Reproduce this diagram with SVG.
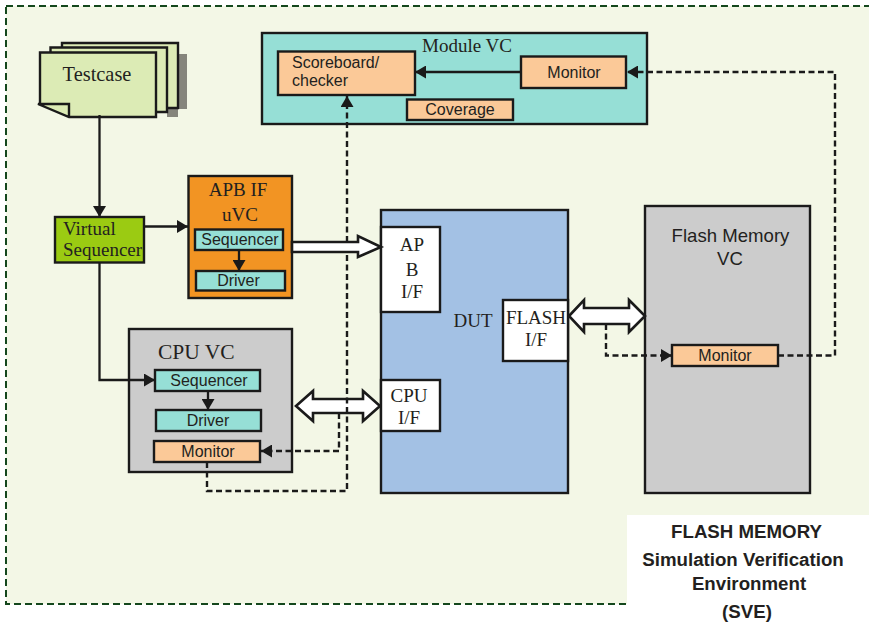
<svg xmlns="http://www.w3.org/2000/svg" width="869" height="622" viewBox="0 0 869 622">
<defs>
<style>
.b{stroke:#1a1a1a;stroke-width:2.4}
.mon{fill:#fbc998}
.teal{fill:#96dfd6}
.wh{fill:#fff}
.s{font-family:"Liberation Serif","Times New Roman",serif;fill:#231f20;font-size:19px}
.a{font-family:"Liberation Sans",Arial,sans-serif;fill:#231f20;font-size:16px}
.t{font-family:"Liberation Sans",Arial,sans-serif;fill:#231f20;font-size:18.700px;font-weight:bold;text-anchor:middle}
.m{text-anchor:middle}
.c{fill:none;stroke:#1a1a1a;stroke-width:2.300}
.d{fill:none;stroke:#1a1a1a;stroke-width:2.400;stroke-dasharray:6 3.500}
.h{fill:#fff;stroke:#1a1a1a;stroke-width:2.600;stroke-linejoin:miter}
</style>
<marker id="ah" markerUnits="userSpaceOnUse" markerWidth="12" markerHeight="13" refX="11" refY="6.500" orient="auto"><path d="M0 0L11 6.500L0 13Z" fill="#1a1a1a"/></marker>
</defs>
<rect id="background" width="869" height="622" fill="#fff"/>
<g id="sve-frame"><rect x="6" y="6" width="880" height="598" fill="#f3f7e6" stroke="#14471c" stroke-width="2" stroke-dasharray="7 4"/></g>
<g id="caption">
<rect x="627" y="515" width="242" height="107" fill="#fff"/>
<text class="t" x="746.500" y="538">FLASH MEMORY</text>
<text class="t" x="743" y="566">Simulation Verification</text>
<text class="t" x="749" y="590">Environment</text>
<text class="t" x="747" y="618">(SVE)</text>
</g>
<g id="testcase">
<rect x="178" y="54" width="9" height="55" fill="#85857c"/>
<rect x="167" y="108" width="11" height="9" fill="#85857c"/>
<path class="b" d="M62 48V43H178V108H167" fill="#dcebb5"/>
<path class="b" d="M50.500 53V47.500H167V112H156" fill="#dcebb5"/>
<path class="b" d="M40 104V52.500H156V117H69L38 104H69V117" fill="#dcebb5"/>
<text class="s" x="97" y="81" text-anchor="middle" style="font-size:20.400px">Testcase</text>
</g>
<g id="module-vc">
<rect class="b teal" x="262" y="33" width="385" height="91"/>
<text class="s" x="467" y="52" text-anchor="middle">Module VC</text>
<g id="scoreboard"><rect class="b mon" x="278" y="51.500" width="137" height="43.500"/>
<text class="a" x="292" y="68">Scoreboard/</text><text class="a" x="292" y="86">checker</text></g>
<g id="module-monitor"><rect class="b mon" x="521" y="56.500" width="105" height="31.500"/><text class="a m" x="574" y="78">Monitor</text></g>
<g id="coverage"><rect class="b mon" x="407" y="99.500" width="106" height="20.500"/><text class="a m" x="460" y="115">Coverage</text></g>
</g>
<g id="virtual-sequencer"><rect class="b" x="55" y="217" width="89" height="45.500" fill="#9bcb12"/>
<text class="s" x="63" y="235">Virtual</text><text class="s" x="63" y="256">Sequencer</text></g>
<g id="apb-uvc"><rect class="b" x="188.500" y="176" width="103.500" height="122" fill="#f29423"/>
<text class="s" x="238" y="196" text-anchor="middle">APB IF</text><text class="s" x="240" y="221" text-anchor="middle">uVC</text>
<g id="apb-sequencer"><rect class="b teal" x="195" y="229.500" width="88" height="20.500"/><text class="a m" x="240" y="245">Sequencer</text></g>
<g id="apb-driver"><rect class="b teal" x="196" y="271" width="89" height="19.500"/><text class="a m" x="238.500" y="286">Driver</text></g>
</g>
<g id="cpu-vc"><rect class="b" x="129" y="329" width="163" height="143" fill="#ccc"/>
<text class="s" x="158" y="359" style="font-size:21.500px">CPU VC</text>
<g id="cpu-sequencer"><rect class="b teal" x="155" y="370" width="105" height="21"/><text class="a m" x="209" y="386">Sequencer</text></g>
<g id="cpu-driver"><rect class="b teal" x="156" y="410" width="105" height="21"/><text class="a m" x="208" y="426">Driver</text></g>
<g id="cpu-monitor"><rect class="b mon" x="154" y="441" width="106" height="21"/><text class="a m" x="208" y="457">Monitor</text></g>
</g>
<g id="dut"><rect class="b" x="381" y="210" width="187" height="283" fill="#a3c1e4"/>
<text class="s" x="473" y="327" text-anchor="middle">DUT</text>
<g id="apb-if"><rect class="b wh" x="381" y="227" width="59" height="85"/>
<text class="s" x="412" y="251" text-anchor="middle">AP</text><text class="s" x="412" y="276" text-anchor="middle">B</text><text class="s" x="412" y="298" text-anchor="middle">I/F</text></g>
<g id="cpu-if"><rect class="b wh" x="381" y="380" width="59" height="51"/>
<text class="s" x="409" y="402" text-anchor="middle">CPU</text><text class="s" x="409" y="424" text-anchor="middle">I/F</text></g>
<g id="flash-if"><rect class="b wh" x="503" y="300" width="65" height="61"/>
<text class="s" x="536" y="324" text-anchor="middle">FLASH</text><text class="s" x="536" y="346" text-anchor="middle">I/F</text></g>
</g>
<g id="flash-vc"><rect class="b" x="645" y="206" width="165" height="287" fill="#ccc"/>
<text class="a" x="730.500" y="242" text-anchor="middle" style="font-size:18.600px">Flash Memory</text><text class="a" x="730" y="265" text-anchor="middle" style="font-size:18.600px">VC</text>
<g id="flash-monitor"><rect class="b mon" x="672" y="345" width="106" height="21"/><text class="a m" x="725" y="361">Monitor</text></g>
</g>
<g id="connectors">
<path class="c" d="M99.500 115V217" marker-end="url(#ah)"/>
<path class="c" d="M99.500 262V380H155" marker-end="url(#ah)"/>
<path class="c" d="M144 226.500H188" marker-end="url(#ah)"/>
<path class="c" d="M239 250V271" marker-end="url(#ah)"/>
<path class="c" d="M208 391V410" marker-end="url(#ah)"/>
<path class="c" d="M521 72H415" marker-end="url(#ah)"/>
<path class="h" d="M296 406L313 391V399H363V391L380 406L363 421V413H313V421Z"/>
<path class="h" d="M569 316L584 300V308H629V300L645 316L629 332V324H584V332Z"/>
<path class="d" d="M606 324V355.500H672" marker-end="url(#ah)"/>
<path class="d" d="M778 355.500H835V72H627" marker-end="url(#ah)"/>
<path class="d" d="M339 413V451H261" marker-end="url(#ah)"/>
<path class="d" d="M207 462V491H347V96" marker-end="url(#ah)"/>
<path class="h" d="M292 242H358V236L381 247L358 257V252H292Z"/>
</g>
</svg>
